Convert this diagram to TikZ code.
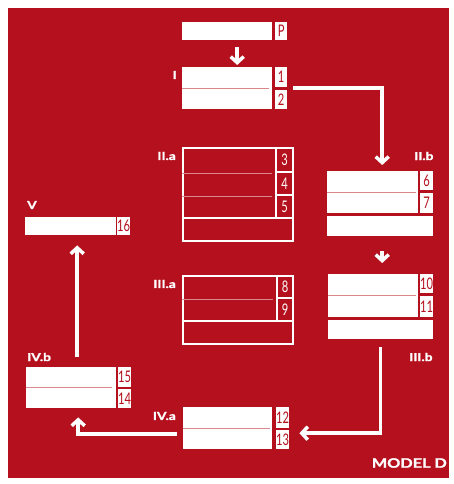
\documentclass[tikz,border=0pt]{standalone}
\usepackage{fontspec}
\setmainfont{Lato}
\newfontfamily\numfont[FakeStretch=0.7]{Lato}
\newfontfamily\labfont[FakeStretch=1.25, BoldFeatures={FakeBold=1.6}]{Lato}
\usetikzlibrary{calc,arrows.meta}
\definecolor{modelred}{RGB}{181,16,29}
\colorlet{sepcol}{modelred!50!white}
\tikzset{fillbox/.style={fill=white, draw=none, anchor=north west, inner sep=0pt}}
\tikzset{outbox/.style={draw=white, line width=2.3pt, anchor=north west, inner sep=0pt}}
\tikzset{numcell/.style={fillbox, text=modelred, font=\numfont\fontsize{16}{16}\selectfont}}
\tikzset{outcell/.style={outbox, text=white, font=\numfont\fontsize{16}{16}\selectfont}}

\begin{document}
\begin{tikzpicture}[
  x=1pt,y=-1pt,
  arr/.style={-{Straight Barb[length=6pt,width=13pt]}, draw=white, line width=3.5pt},
  sep/.style={draw=sepcol, line width=1pt},
  stage/.style={text=white, inner sep=0pt, font=\labfont\bfseries\fontsize{11}{11}\selectfont}
]
  \useasboundingbox (0,0) rectangle (453,484);
  \fill[modelred] (8,8) rectangle (449,478);

  % P and I
  \node[fillbox, minimum width=90pt, minimum height=18pt] (bP) at (182,22) {};
  \node[numcell, minimum width=12pt, minimum height=18pt] (cP) at (275,22) {P};
  \node[fillbox, minimum width=90pt, minimum height=42pt] (bI) at (182,67) {};
  \node[numcell, minimum width=12pt, minimum height=20pt] (c1) at (275,67) {1};
  \node[numcell, minimum width=12pt, minimum height=19pt] (c2) at (275,90) {2};
  \draw[sep] (bI.west) -- ([xshift=-3pt]bI.east);
  \node[stage, anchor=east] at (177,75) {I};

  % II.a
  \node[outbox, minimum width=110pt, minimum height=93pt] (oIIa) at (182,147) {};
  \node[outbox, minimum width=110pt, minimum height=23pt] (rIIa) at (182,217) {};
  \node[outcell, minimum width=17pt, minimum height=24pt] (c3) at (275,147) {3};
  \node[outcell, minimum width=17pt, minimum height=23pt] (c4) at (275,171) {4};
  \node[outcell, minimum width=17pt, minimum height=23pt] (c5) at (275,194) {5};
  \draw[sep] (oIIa.west |- c3.south) -- ([xshift=-3pt]c3.south west);
  \draw[sep] (oIIa.west |- c4.south) -- ([xshift=-3pt]c4.south west);
  \node[stage, anchor=east] at (176,156) {II.a};

  % II.b
  \node[fillbox, minimum width=91pt, minimum height=42pt] (bIIb) at (327,171) {};
  \node[numcell, minimum width=13pt, minimum height=19pt] (c6) at (420,171) {6};
  \node[numcell, minimum width=13pt, minimum height=20pt] (c7) at (420,193) {7};
  \node[fillbox, minimum width=106pt, minimum height=20pt] (rIIb) at (327,216) {};
  \draw[sep] (bIIb.west) -- ([xshift=-2pt]bIIb.east);
  \node[stage, anchor=west] at (414,156) {II.b};

  % III.a
  \node[outbox, minimum width=110pt, minimum height=68pt] (oIIIa) at (182,275) {};
  \node[outbox, minimum width=110pt, minimum height=23pt] (rIIIa) at (182,320) {};
  \node[outcell, minimum width=16pt, minimum height=22pt] (c8) at (276,275) {8};
  \node[outcell, minimum width=16pt, minimum height=23pt] (c9) at (276,297) {9};
  \draw[sep] (oIIIa.west |- c8.south) -- ([xshift=-3pt]c8.south west);
  \node[stage, anchor=east] at (176,284) {III.a};

  % III.b
  \node[fillbox, minimum width=90pt, minimum height=43pt] (bIIIb) at (328,274) {};
  \node[numcell, minimum width=13pt, minimum height=19pt] (c10) at (420,274) {10};
  \node[numcell, minimum width=13pt, minimum height=21pt] (c11) at (420,296) {11};
  \node[fillbox, minimum width=105pt, minimum height=19pt] (rIIIb) at (328,320) {};
  \draw[sep] (bIIIb.west) -- ([xshift=-2pt]bIIIb.east);
  \node[stage, anchor=west] at (409,357) {III.b};

  % IV.a
  \node[fillbox, minimum width=89pt, minimum height=42pt] (bIVa) at (183,407) {};
  \node[numcell, minimum width=12pt, minimum height=21pt] (c12) at (276,407) {12};
  \node[numcell, minimum width=12pt, minimum height=19pt] (c13) at (276,430) {13};
  \draw[sep] (bIVa.west) -- ([xshift=-2pt]bIVa.east);
  \node[stage, anchor=east] at (176,416) {IV.a};

  % IV.b
  \node[fillbox, minimum width=90pt, minimum height=41pt] (bIVb) at (26,367) {};
  \node[numcell, minimum width=13pt, minimum height=20pt] (c15) at (118,367) {15};
  \node[numcell, minimum width=13pt, minimum height=19pt] (c14) at (118,389) {14};
  \draw[sep] (bIVb.west) -- ([xshift=-4pt]bIVb.east);
  \node[stage, anchor=west] at (27,357) {IV.b};

  % V
  \node[fillbox, minimum width=91pt, minimum height=18pt] (bV) at (25,217) {};
  \node[numcell, minimum width=13pt, minimum height=18pt] (c16) at (117,217) {16};
  \node[stage, anchor=west] at (27,205) {V};

  % flow
  \draw[arr, shorten <=7pt, shorten >=2pt] ([xshift=10pt]bP.south) -- ([xshift=10pt]bI.north);
  \draw[arr, shorten >=6pt] ([xshift=21pt]bI.east) -| ([xshift=9.5pt]bIIb.north);
  \draw[arr, shorten <=15pt, shorten >=11pt] ([xshift=2pt]rIIb.south) -- ([xshift=9pt]bIIIb.north);
  \draw[arr, shorten <=8pt, shorten >=10pt] (rIIIb.south) |- ([yshift=6.5pt]c13.east);
  \draw[arr, shorten <=6pt, shorten >=9pt] ([yshift=-6pt]bIVa.west) -| ([xshift=7pt]bIVb.south);
  \draw[arr, shorten <=10pt, shorten >=10pt] ([xshift=6pt]bIVb.north) -- ([xshift=6.5pt]bV.south);

  \node[stage, anchor=east, font=\labfont\bfseries\fontsize{13}{13}\selectfont] (model) at (447,463) {MODEL D};
\end{tikzpicture}
\end{document}
